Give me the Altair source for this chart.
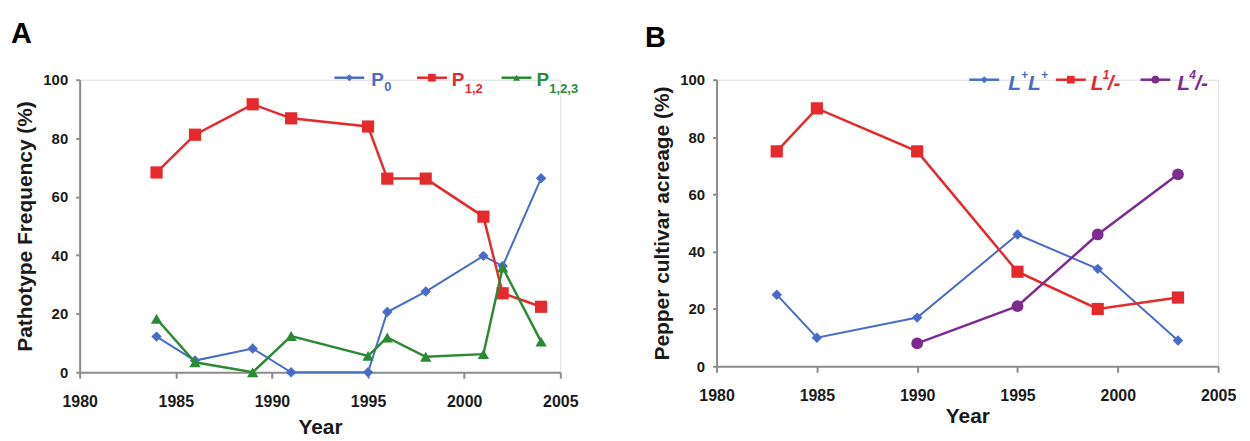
import altair as alt
import pandas as pd

# ---------------- data ----------------
years_a = [1984, 1986, 1989, 1991, 1995, 1996, 1998, 2001, 2002, 2004]
p0_vals = [12.2, 4.0, 8.1, 0.0, 0.0, 20.6, 27.6, 39.8, 36.3, 66.3]
p12_vals = [68.3, 81.2, 91.6, 86.8, 84.0, 66.2, 66.2, 53.2, 27.0, 22.4]
p123_vals = [18.3, 3.4, 0.0, 12.4, 5.6, 11.9, 5.3, 6.2, 35.8, 10.5]

years_b = [1983, 1985, 1990, 1995, 1999, 2003]
llp_vals = [25, 10, 17, 46, 34, 9]
l1_vals = [75, 90, 75, 33, 20, 24]
years_b4 = [1990, 1995, 1999, 2003]
l4_vals = [8, 21, 46, 67]

x_ticks = [1980, 1985, 1990, 1995, 2000, 2005]
y_ticks = [0, 20, 40, 60, 80, 100]

# ---------------- style ----------------
BLUE = "#4a6cc9"
RED = "#e42a2c"
GREEN = "#2c8a34"
PURPLE = "#7b2d8f"
AXIS = "#8c8c8c"
INK = "#1a1a1a"
SANS = "Liberation Sans, Arial, sans-serif"

one = pd.DataFrame({"k": [0]})


def x_enc(title_pad):
    return alt.X(
        "year:Q",
        scale=alt.Scale(domain=[1980, 2005], nice=False, zero=False),
        axis=alt.Axis(
            values=x_ticks, format="d", title="Year", grid=False,
            domainColor=AXIS, domainWidth=2, tickColor=AXIS, tickWidth=2, tickSize=6,
            labelFont=SANS, labelFontSize=16, labelFontWeight="bold", labelColor=INK,
            labelPadding=15, labelFlush=False,
            titleFont=SANS, titleFontSize=21, titleFontWeight="bold", titleColor=INK,
            titlePadding=title_pad,
        ),
    )


def y_enc(title):
    return alt.Y(
        "value:Q",
        scale=alt.Scale(domain=[0, 100], nice=False),
        axis=alt.Axis(
            values=y_ticks, title=title, grid=False,
            domainColor=AXIS, domainWidth=2, tickColor=AXIS, tickWidth=2, tickSize=4,
            labelFont=SANS, labelFontSize=15, labelFontWeight="bold", labelColor=INK,
            labelPadding=8,
            titleFont=SANS, titleFontSize=21, titleFontWeight="bold", titleColor=INK,
            titlePadding=7,
        ),
    )


def series(years, vals, color, shape, size, sw, xe, ye):
    df = pd.DataFrame({"year": years, "value": vals})
    base = alt.Chart(df).encode(x=xe, y=ye)
    return base.mark_line(color=color, strokeWidth=sw) + base.mark_point(
        shape=shape, size=size, filled=True, color=color, opacity=1
    )


def lg_rule(x1, x2, y, color, sw=2.5):
    return alt.Chart(one).mark_rule(color=color, strokeWidth=sw).encode(
        x=alt.value(x1), x2=alt.value(x2), y=alt.value(y)
    )


def lg_pt(x, y, shape, size, color):
    return alt.Chart(one).mark_point(shape=shape, size=size, filled=True, color=color, opacity=1).encode(
        x=alt.value(x), y=alt.value(y)
    )


def lg_txt(x, y, text, size, color, font=SANS, style="normal"):
    return alt.Chart(one).mark_text(
        text=text, font=font, fontSize=size, fontWeight="bold", fontStyle=style,
        color=color, align="left", baseline="alphabetic"
    ).encode(x=alt.value(x), y=alt.value(y))


# ---------------- panel A ----------------
xa = x_enc(8)
ya = y_enc("Pathotype Frequency (%)")
panel_a = alt.layer(
    series(years_a, p0_vals, BLUE, "diamond", 110, 2, xa, ya),
    series(years_a, p12_vals, RED, "square", 150, 2.5, xa, ya),
    series(years_a, p123_vals, GREEN, "triangle-up", 130, 2.5, xa, ya),
    lg_txt(-69, -37, "A", 29, "#000000"),
    lg_rule(256, 286, -2, BLUE, 2.5),
    lg_pt(271, -2, "diamond", 50, BLUE),
    lg_txt(293, 6, "P", 19, BLUE),
    lg_txt(306, 11, "0", 13, BLUE),
    lg_rule(339, 369, -2, RED),
    lg_pt(354, -2, "square", 60, RED),
    lg_txt(374, 6, "P", 19, RED),
    lg_txt(387, 13, "1,2", 13, RED),
    lg_rule(424, 454, -2, GREEN),
    lg_pt(439, -2, "triangle-up", 50, GREEN),
    lg_txt(459, 6, "P", 19, GREEN),
    lg_txt(472, 13, "1,2,3", 13, GREEN),
).properties(width=483, height=294)

# ---------------- panel B ----------------
xb = x_enc(2)
yb = y_enc("Pepper cultivar acreage (%)")
panel_b = alt.layer(
    series(years_b, llp_vals, BLUE, "diamond", 110, 2, xb, yb),
    series(years_b, l1_vals, RED, "square", 150, 2.5, xb, yb),
    series(years_b4, l4_vals, PURPLE, "circle", 140, 2.5, xb, yb),
    lg_txt(-72, -33, "B", 29, "#000000"),
    lg_rule(254, 284, 0, BLUE, 2.5),
    lg_pt(269, 0, "diamond", 50, BLUE),
    lg_txt(293, 10, "L", 21, BLUE, style="italic"),
    lg_txt(306, -1, "+", 12, BLUE, style="italic"),
    lg_txt(313, 10, "L", 21, BLUE, style="italic"),
    lg_txt(326, -1, "+", 12, BLUE, style="italic"),
    lg_rule(341, 371, 0, RED),
    lg_pt(356, 0, "square", 60, RED),
    lg_txt(376, 10, "L", 21, RED, style="italic"),
    lg_txt(388, -1, "1", 12, RED, style="italic"),
    lg_txt(393, 10, "/-", 21, RED, style="italic"),
    lg_rule(426, 456, 0, PURPLE),
    lg_pt(441, 0, "circle", 60, PURPLE),
    lg_txt(463, 10, "L", 21, PURPLE, style="italic"),
    lg_txt(475, -1, "4", 12, PURPLE, style="italic"),
    lg_txt(481, 10, "/-", 21, PURPLE, style="italic"),
).properties(width=504, height=288)

chart = alt.hconcat(panel_a, panel_b, spacing=157, bounds="flush").properties(
    padding={"left": 2, "top": 10, "right": 5, "bottom": 5}
).configure_view(stroke=None).configure(background="white")

chart.save("out.html", embed_options={"renderer": "svg", "actions": False})
